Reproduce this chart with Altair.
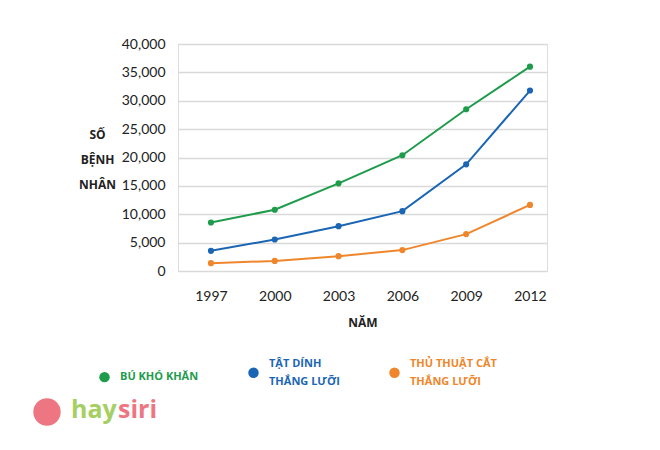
import altair as alt
import pandas as pd

years = [1997, 2000, 2003, 2006, 2009, 2012]
series_names = ["BÚ KHÓ KHĂN", "TẬT DÍNH|THẮNG LƯỠI", "THỦ THUẬT CẮT|THẮNG LƯỠI"]
bu_kho_khan = [8550, 10800, 15450, 20400, 28500, 36000]
tat_dinh = [3550, 5550, 7900, 10550, 18800, 31800]
thu_thuat = [1380, 1780, 2620, 3680, 6500, 11650]
colors = ["#1f9b4c", "#1b66b4", "#f0862b"]
y_ticks = [0, 5000, 10000, 15000, 20000, 25000, 30000, 35000, 40000]

rows = []
for name, vals in zip(series_names, [bu_kho_khan, tat_dinh, thu_thuat]):
    for yr, v in zip(years, vals):
        rows.append({"year": yr, "value": v, "series": name})
df = pd.DataFrame(rows)

label_color_expr = (
    f"datum.value == '{series_names[0]}' ? '{colors[0]}' : "
    f"datum.value == '{series_names[1]}' ? '{colors[1]}' : '{colors[2]}'"
)
label_baseline_expr = "indexof(datum.value, '|') >= 0 ? 'line-bottom' : 'middle'"

lines = alt.Chart(df).mark_line(
    strokeWidth=2, point=alt.OverlayMarkDef(size=38, filled=True, opacity=1)
).encode(
    x=alt.X("year:Q",
            scale=alt.Scale(domain=[1995.45, 2012.8], nice=False, zero=False),
            axis=alt.Axis(values=years, format="d", grid=False, domain=False, ticks=False,
                          labelFont="Lato", labelFontSize=14, labelColor="#222222",
                          labelPadding=18, title="NĂM", titleFont="Open Sans",
                          titleFontWeight="bold", titleFontSize=12, titleColor="#222222",
                          titlePadding=14)),
    y=alt.Y("value:Q",
            scale=alt.Scale(domain=[0, 40000], nice=False),
            axis=alt.Axis(values=y_ticks, format=",.0f", domain=False, ticks=False,
                          gridColor="#d9d9d9", gridWidth=1.5,
                          labelFont="Lato", labelFontSize=14, labelColor="#222222",
                          labelPadding=13,
                          title=["SỐ", "BỆNH", "NHÂN"], titleAngle=0,
                          titleFont="Open Sans", titleFontWeight="bold", titleFontSize=12,
                          titleColor="#222222", titleLineHeight=25, titleAlign="center",
                          titleX=-81, titleY=85, titleBaseline="top")),
    color=alt.Color("series:N",
                    scale=alt.Scale(domain=series_names, range=colors),
                    sort=series_names,
                    legend=alt.Legend(orient="none", direction="horizontal",
                                      legendX=-79, legendY=323, title=None,
                                      symbolType="circle", symbolSize=110,
                                      symbolStrokeWidth=0,
                                      labelExpr="split(datum.label, '|')",
                                      labelFont="Open Sans", labelFontWeight="bold",
                                      labelFontSize=11,
                                      labelColor=alt.ExprRef(label_color_expr),
                                      labelBaseline=alt.ExprRef(label_baseline_expr),
                                      labelOffset=10, columnPadding=49,
                                      labelLimit=200)),
)

logo_hay = alt.Chart(pd.DataFrame({"t": ["hay"]})).mark_text(
    font="Open Sans", fontWeight="bold", fontSize=25, color="#a6cf63", align="left", baseline="middle"
).encode(text="t:N", x=alt.value(-107), y=alt.value(366))
logo_siri = alt.Chart(pd.DataFrame({"t": ["siri"]})).mark_text(
    font="Open Sans", fontWeight="bold", fontSize=25, color="#ee7682", align="left", baseline="middle"
).encode(text="t:N", x=alt.value(-60), y=alt.value(366))
logo_apple = alt.Chart(pd.DataFrame({"t": ["a"]})).mark_point(
    shape="circle", filled=True, size=750, color="#ee7682", opacity=1
).encode(x=alt.value(-131), y=alt.value(368))

chart = alt.layer(lines, logo_apple, logo_hay, logo_siri).properties(
    width=369, height=227,
    autosize=alt.AutoSizeParams(type="none"),
    padding={"left": 170, "top": 36, "right": 105, "bottom": 171},
).configure_view(stroke=None).configure(
    background="white",
    style={"guide-label": {"lineHeight": 18}},
)

chart.save("out.html", embed_options={"renderer": "svg", "actions": False})
